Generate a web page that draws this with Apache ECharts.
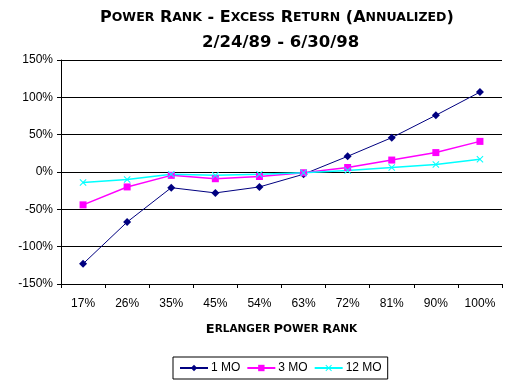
<!DOCTYPE html>
<html><head><meta charset="utf-8">
<script src="https://cdn.jsdelivr.net/npm/echarts@6/dist/echarts.min.js"></script>
<style>html,body{margin:0;padding:0;background:#fff}#c{width:516px;height:386px}</style>
</head><body><div id="c"></div>
<script>
const categories = ['17%','26%','35%','45%','54%','63%','72%','81%','90%','100%'];
const mo1  = [-123, -67, -21, -28, -20, -3, 21, 46, 76, 107];
const mo3  = [-44, -20, -4.5, -9, -6, -1, 6, 16, 26, 41];
const mo12 = [-14, -10, -3, -4.5, -3, -1, 2, 6, 10, 17];
const seriesNames = ['1 MO','3 MO','12 MO'];
const yTicks = [-150, -100, -50, 0, 50, 100, 150];

const xPath = 'path://M0,1 L1,0 L5,4 L9,0 L10,1 L6,5 L10,9 L9,10 L5,6 L1,10 L0,9 L4,5 Z';
const capFont = 'DejaVu Sans';
const rich = {
  c: {fontFamily: capFont, fontWeight: 'bold', fontSize: 16, color: '#000'},
  s: {fontFamily: capFont, fontWeight: 'bold', fontSize: 12.5, color: '#000'}
};
const richAx = {
  c: {fontFamily: capFont, fontWeight: 'bold', fontSize: 13, color: '#000'},
  s: {fontFamily: capFont, fontWeight: 'bold', fontSize: 10.5, color: '#000'}
};

const chart = echarts.init(document.getElementById('c'), null, {renderer: 'canvas'});
chart.setOption({
  animation: false,
  backgroundColor: '#fff',
  title: [{
    text: '{c|P}{s|OWER} {c|R}{s|ANK} {c|-} {c|E}{s|XCESS} {c|R}{s|ETURN} {c|(A}{s|NNUALIZED}{c|)}',
    left: 95, top: 5,
    textStyle: {rich: rich, fontFamily: capFont, fontWeight: 'bold', fontSize: 16}
  }, {
    text: '2/24/89 - 6/30/98',
    left: 197, top: 29,
    textStyle: {fontFamily: capFont, fontWeight: 'bold', fontSize: 16.5, color: '#000'}
  }],
  grid: {left: 61, right: 14, top: 60, bottom: 102, containLabel: false},
  legend: {
    data: seriesNames,
    bottom: 7, left: 173,
    orient: 'horizontal',
    borderColor: '#000', borderWidth: 1, borderRadius: 0,
    padding: [5, 6, 5, 6],
    itemGap: 6, itemWidth: 28, itemHeight: 8,
    textStyle: {fontFamily: 'Liberation Sans', fontSize: 12, color: '#000', padding: [0, 0, 0, -2]}
  },
  xAxis: {
    type: 'category', data: categories, boundaryGap: true,
    name: '{c|E}{s|RLANGER} {c|P}{s|OWER} {c|R}{s|ANK}',
    nameLocation: 'middle', nameGap: 39,
    nameTextStyle: {rich: richAx},
    axisLine: {onZero: false, lineStyle: {color: '#000', width: 1}},
    axisTick: {show: true, inside: false, length: 4, alignWithLabel: false, lineStyle: {color: '#000'}},
    axisLabel: {fontFamily: 'Liberation Sans', fontSize: 12, color: '#000', margin: 14}
  },
  yAxis: {
    type: 'value', min: -150, max: 150, interval: 50,
    axisLine: {show: true, lineStyle: {color: '#000', width: 1}},
    axisTick: {show: true, length: 4, lineStyle: {color: '#000'}},
    axisLabel: {fontFamily: 'Liberation Sans', fontSize: 12, color: '#000', margin: 8,
      formatter: v => yTicks.includes(v) ? v + '%' : ''},
    splitLine: {show: true, lineStyle: {color: '#000', width: 1}}
  },
  series: [
    {name: seriesNames[0], type: 'line', data: mo1, symbol: 'diamond', symbolSize: 8,
      itemStyle: {color: '#000080'}, lineStyle: {color: '#000080', width: 1}},
    {name: seriesNames[1], type: 'line', data: mo3, symbol: 'rect', symbolSize: 7,
      itemStyle: {color: '#FF00FF'}, lineStyle: {color: '#FF00FF', width: 1.5}},
    {name: seriesNames[2], type: 'line', data: mo12, symbol: xPath, symbolSize: 7,
      itemStyle: {color: '#00FFFF'}, lineStyle: {color: '#00FFFF', width: 1.5}}
  ]
});
</script></body></html>
